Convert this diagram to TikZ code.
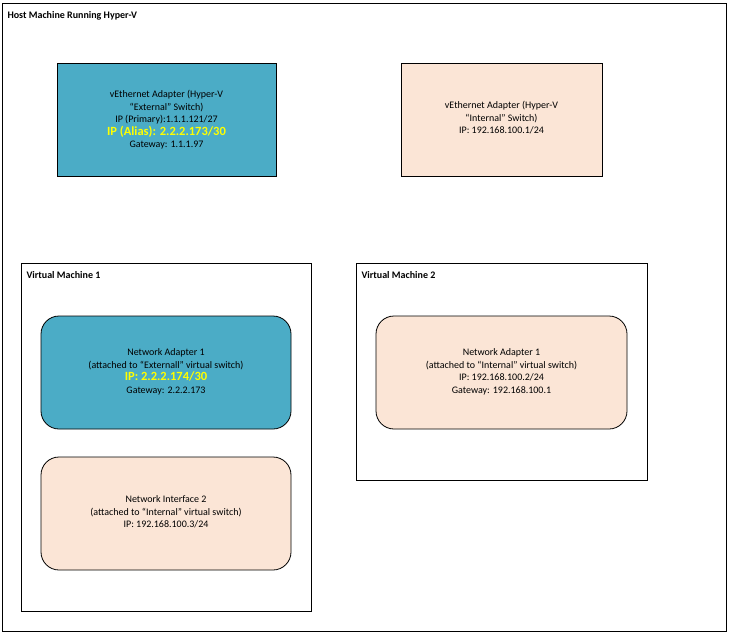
\documentclass[tikz,border=0pt]{standalone}
\usepackage{fontspec}
\setmainfont{Carlito}
\usetikzlibrary{positioning}
\definecolor{teal}{HTML}{4BACC6}
\definecolor{peach}{HTML}{FBE5D6}
\definecolor{hilite}{HTML}{FFFF00}
\tikzset{
  frame/.style = {draw, line width=0.8pt},
  adapter/.style = {draw, line width=0.8pt, align=center, font=\fontsize{10}{12.5}\selectfont},
  rnd/.style = {adapter, rounded corners=18pt},
  title/.style = {anchor=west, font=\bfseries\fontsize{10}{12}\selectfont},
}
\newcommand{\alias}[1]{{\color{hilite}\bfseries\fontsize{12.5}{15}\selectfont #1}}
\begin{document}
\begin{tikzpicture}[x=1pt, y=-1pt]
  \useasboundingbox (0,0) rectangle (731,637);
  % host
  \draw[frame] (2,3) rectangle (726,631);
  \node[title] (host) at (4,16) {Host Machine Running Hyper-V};
  \draw[adapter, fill=teal] (57,63) rectangle (276,176);
  \node[adapter, draw=none] (ext) at (166.5,120) {vEthernet Adapter (Hyper-V\\“External” Switch)\\IP (Primary):1.1.1.121/27\\\alias{IP (Alias): 2.2.2.173/30}\\Gateway: 1.1.1.97};
  \draw[adapter, fill=peach] (401,63) rectangle (602,176);
  \node[adapter, draw=none] (int) at (501.5,118) {vEthernet Adapter (Hyper-V\\“Internal” Switch)\\IP: 192.168.100.1/24};
  % virtual machines
  \draw[frame] (21,263) rectangle (311,611);
  \node[title] (vm1) at (23,275) {Virtual Machine 1};
  \draw[frame] (356,263) rectangle (647,480);
  \node[title] (vm2) at (358,275) {Virtual Machine 2};
  \draw[rnd, fill=teal] (41,316) rectangle (291,429);
  \node[adapter, draw=none] (na1) at (166,372) {Network Adapter 1\\(attached to “Externall” virtual switch)\\\alias{IP: 2.2.2.174/30}\\Gateway: 2.2.2.173};
  \draw[rnd, fill=peach] (41,457) rectangle (291,570);
  \node[adapter, draw=none] (ni2) at (166,512) {Network Interface 2\\(attached to “Internal” virtual switch)\\IP: 192.168.100.3/24};
  \draw[rnd, fill=peach] (376,316) rectangle (627,429);
  \node[adapter, draw=none] (na2) at (501.5,372) {Network Adapter 1\\(attached to “Internal” virtual switch)\\IP: 192.168.100.2/24\\Gateway: 192.168.100.1};
\end{tikzpicture}
\end{document}
